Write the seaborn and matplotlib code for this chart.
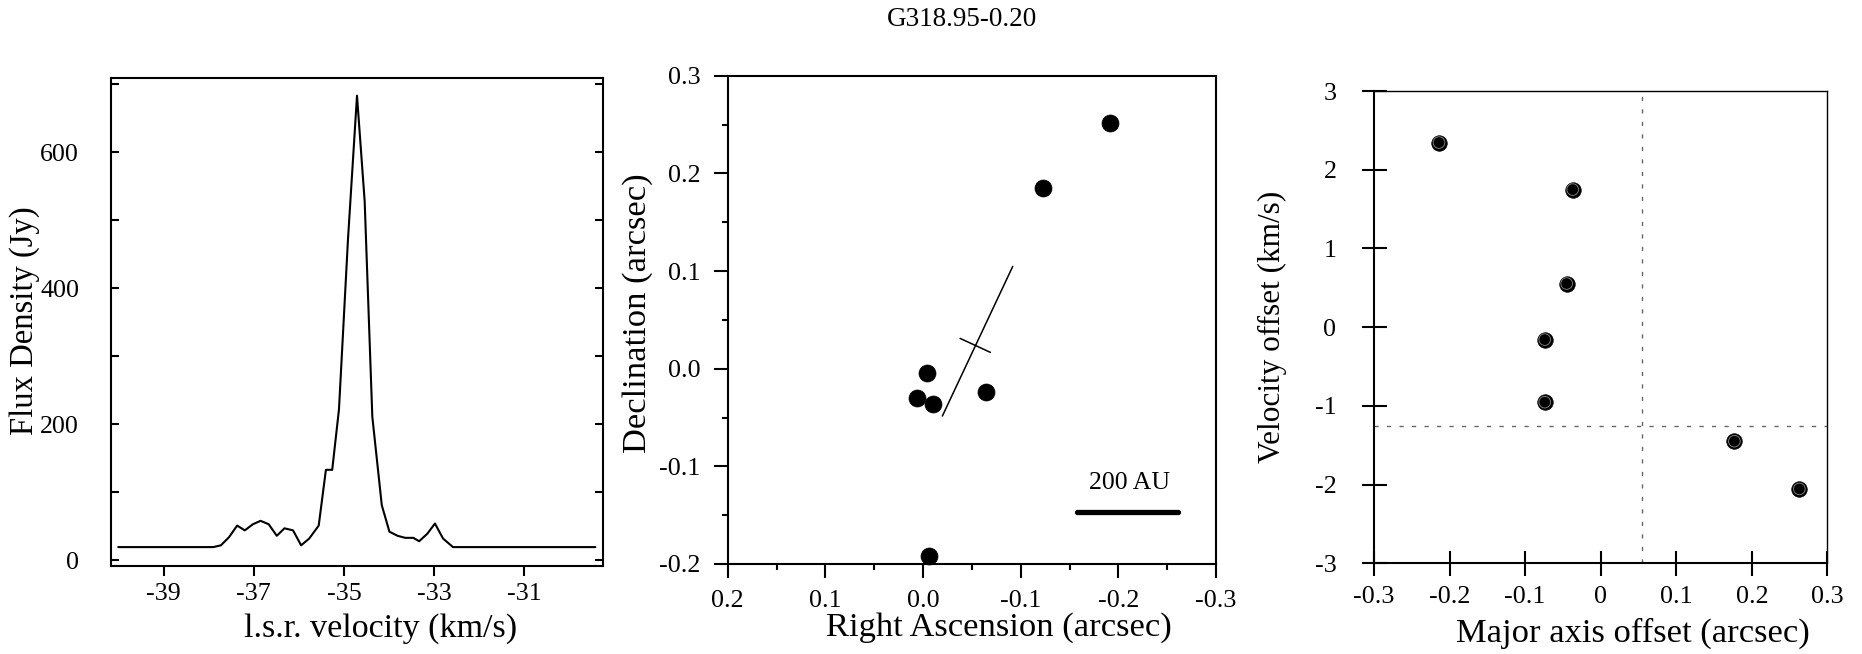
import matplotlib
matplotlib.use("Agg")
import matplotlib.pyplot as plt
import numpy as np
import pandas as pd
import seaborn as sns
from matplotlib.ticker import FixedLocator, FuncFormatter, FormatStrFormatter

# ---------------- data ----------------
# Panel 1: maser spectrum
velocity = [-40.01, -37.90, -37.73, -37.55, -37.37, -37.20, -37.02, -36.85, -36.67,
            -36.49, -36.32, -36.13, -35.95, -35.77, -35.56, -35.40, -35.26, -35.11,
            -34.91, -34.71, -34.54, -34.37, -34.16, -33.99, -33.81, -33.64, -33.46,
            -33.33, -33.15, -32.98, -32.80, -32.58, -29.42]
flux = [19.4, 19.4, 22, 34, 51, 44, 53, 58, 53,
        36, 47, 44, 22, 32, 51, 133, 133, 222,
        472, 683, 528, 211, 81, 42, 36, 33, 33,
        28, 39, 54, 32, 19.4, 19.4]
vel_ticks = [-39, -37, -35, -33, -31]
flux_ticks = [0, 200, 400, 600]
flux_minor = [100, 300, 500, 700]

# Panel 2: spot positions
ra = [-0.191, -0.123, -0.004, 0.006, -0.010, -0.065, -0.006]
dec = [0.252, 0.1855, -0.004, -0.030, -0.036, -0.024, -0.192]
axis_ra = [-0.0198, -0.0919]
axis_dec = [-0.0485, 0.1048]
perp_ra = [-0.038, -0.069]
perp_dec = [0.031, 0.0167]
scalebar_ra = [-0.1575, -0.2607]
scalebar_dec = [-0.1467, -0.1467]
scalebar_label = "200 AU"
scalebar_label_pos = (-0.211, -0.1166)
ra_ticks = [0.2, 0.1, 0.0, -0.1, -0.2, -0.3]
ra_minor = [0.15, 0.05, -0.05, -0.15, -0.25]
dec_ticks = [-0.2, -0.1, 0.0, 0.1, 0.2, 0.3]
dec_minor = [-0.15, -0.05, 0.05, 0.15, 0.25]

# Panel 3: position-velocity
major_offset = [-0.214, -0.037, -0.045, -0.074, -0.074, 0.177, 0.263]
vel_offset = [2.345, 1.748, 0.554, -0.158, -0.953, -1.449, -2.055]
center_major = 0.055
center_vel = -1.256
maj_ticks = [-0.3, -0.2, -0.1, 0.0, 0.1, 0.2, 0.3]
vo_ticks = [-3, -2, -1, 0, 1, 2, 3]

title = "G318.95-0.20"

# ---------------- style ----------------
sns.set_theme(style="ticks", rc={
    "axes.edgecolor": "black", "text.color": "black",
    "axes.labelcolor": "black", "xtick.color": "black", "ytick.color": "black",
})
plt.rcParams["font.family"] = ["Liberation Serif", "DejaVu Serif"]
plt.rcParams["axes.unicode_minus"] = False

W, H = 1862, 654
fig = plt.figure(figsize=(W / 100, H / 100), dpi=100)


def px_axes(left, right, top, bottom):
    return fig.add_axes([left / W, (H - bottom) / H, (right - left) / W, (bottom - top) / H])


ax1 = px_axes(111, 603, 78, 566)
ax2 = px_axes(727.7, 1216, 75.7, 564)
ax3 = px_axes(1374, 1827.3, 91, 563.3)

TICK_FS = 18.7
LABEL_FS = 24.8

# ---------------- panel 1 ----------------
spec = pd.DataFrame({"velocity": velocity, "flux": flux})
sns.lineplot(data=spec, x="velocity", y="flux", ax=ax1, color="black",
             linewidth=1.5, estimator=None, sort=False)
ax1.set_xlim(-40.17, -29.25)
ax1.set_ylim(-8.4, 709)
ax1.xaxis.set_major_locator(FixedLocator(vel_ticks))
ax1.yaxis.set_major_locator(FixedLocator(flux_ticks))
ax1.yaxis.set_minor_locator(FixedLocator(flux_minor))
ax1.yaxis.set_major_formatter(FormatStrFormatter("%d"))
ax1.tick_params(axis="y", which="both", direction="in", left=True, right=True,
                length=5.8, width=1.5, pad=23, labelsize=TICK_FS)
ax1.tick_params(axis="x", which="both", direction="out", bottom=True, top=False,
                length=7.2, width=1.5, pad=4.8, labelsize=TICK_FS)
for s in ax1.spines.values():
    s.set_linewidth(1.5)
ax1.set_xlabel("l.s.r. velocity (km/s)", fontsize=24.5, va="baseline")
ax1.xaxis.set_label_coords(0.547, -0.146)
ax1.set_ylabel("Flux Density (Jy)", fontsize=23.5, va="center")
ax1.yaxis.set_label_coords(-0.175, 0.503)

# ---------------- panel 2 ----------------
sns.scatterplot(x=ra, y=dec, ax=ax2, color="black", s=150, edgecolor="black",
                linewidth=0.5, zorder=3, clip_on=False)
ax2.plot(axis_ra, axis_dec, color="black", lw=1.1)
ax2.plot(perp_ra, perp_dec, color="black", lw=1.1)
ax2.plot(scalebar_ra, scalebar_dec, color="black", lw=3.8, solid_capstyle="round")
ax2.text(scalebar_label_pos[0], scalebar_label_pos[1], scalebar_label,
         ha="center", va="center", fontsize=18.5)
ax2.set_xlim(0.2, -0.3)
ax2.set_ylim(-0.2, 0.3)
ax2.xaxis.set_major_locator(FixedLocator(ra_ticks))
ax2.xaxis.set_minor_locator(FixedLocator(ra_minor))
ax2.yaxis.set_major_locator(FixedLocator(dec_ticks))
ax2.yaxis.set_minor_locator(FixedLocator(dec_minor))
fmt1 = FuncFormatter(lambda v, p: "0.0" if abs(v) < 1e-9 else f"{v:.1f}")
ax2.xaxis.set_major_formatter(fmt1)
ax2.yaxis.set_major_formatter(fmt1)
ax2.tick_params(axis="both", which="both", direction="out", top=False, right=False,
                width=1.5, labelsize=TICK_FS)
ax2.tick_params(axis="both", which="major", length=10)
ax2.tick_params(axis="both", which="minor", length=4.3)
ax2.tick_params(axis="x", which="major", pad=8.8)
ax2.tick_params(axis="y", which="major", pad=9.8)
for s in ax2.spines.values():
    s.set_linewidth(1.5)
ax2.set_xlabel("Right Ascension (arcsec)", fontsize=LABEL_FS, va="baseline")
ax2.xaxis.set_label_coords(0.555, -0.1475)
ax2.set_ylabel("Declination (arcsec)", fontsize=LABEL_FS, va="center")
ax2.yaxis.set_label_coords(-0.184, 0.513)

# ---------------- panel 3 ----------------
ax3.axvline(center_major, color="#666666", lw=1.0, ls=(0, (3, 6)), zorder=1)
ax3.axhline(center_vel, color="#666666", lw=1.0, ls=(0, (3, 6)), zorder=1)
sns.scatterplot(x=major_offset, y=vel_offset, ax=ax3, color="black", s=125,
                edgecolor="black", linewidth=0.5, zorder=3, clip_on=False)
sns.scatterplot(x=major_offset, y=vel_offset, ax=ax3, facecolor="none", s=70,
                edgecolor="#8a8a8a", linewidth=0.6, zorder=4, clip_on=False)
ax3.set_xlim(-0.3, 0.3)
ax3.set_ylim(-3, 3)
ax3.xaxis.set_major_locator(FixedLocator(maj_ticks))
ax3.yaxis.set_major_locator(FixedLocator(vo_ticks))
ax3.xaxis.set_major_formatter(FuncFormatter(lambda v, p: "0" if abs(v) < 1e-9 else f"{v:.1f}"))
ax3.yaxis.set_major_formatter(FuncFormatter(lambda v, p: f"{int(round(v))}"))
ax3.tick_params(axis="both", which="major", direction="inout", top=False, right=False,
                length=18, width=1.5, labelsize=TICK_FS)
ax3.tick_params(axis="x", pad=7.7)
ax3.tick_params(axis="y", pad=18)
ax3.spines["left"].set_linewidth(1.5)
ax3.spines["bottom"].set_linewidth(1.5)
ax3.spines["top"].set_linewidth(1.0)
ax3.spines["right"].set_linewidth(1.0)
ax3.set_xlabel("Major axis offset (arcsec)", fontsize=LABEL_FS, va="baseline")
ax3.xaxis.set_label_coords(0.571, -0.166)
ax3.set_ylabel("Velocity offset (km/s)", fontsize=22.5, va="center")
ax3.yaxis.set_label_coords(-0.225, 0.500)

fig.text(962 / W, 1 - 19 / H, title, ha="center", va="center", fontsize=19.5)

fig.savefig("out.png", dpi=100)
